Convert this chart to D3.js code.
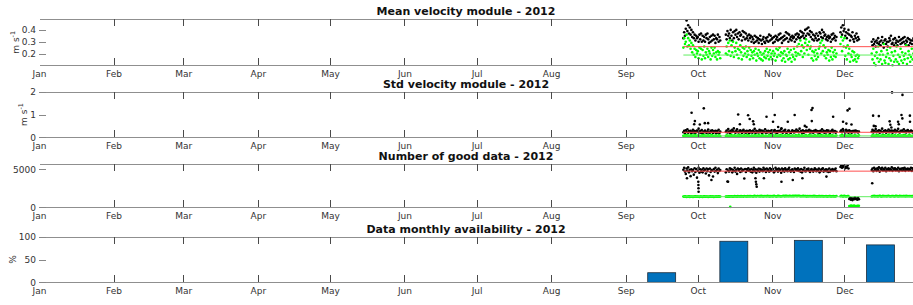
<!DOCTYPE html>
<html>
<head>
<meta charset="utf-8">
<script src="https://cdn.jsdelivr.net/npm/d3@7"></script>
<style>
  body { margin: 0; background: #fff; }
  svg { display: block; font-family: "DejaVu Sans", sans-serif; }
</style>
</head>
<body>
<div id="chart"></div>
<script>
const _ = null;

// Monthly availability (%), Jan..Dec
const availability = [0, 0, 0, 0, 0, 0, 0, 0, 21, 90, 92, 82];

// Samples every 8 h starting 25 Sep 2012 00:00 (3 per day, gaps = null)
const sampleStart = '2012-09-25 00';
const sampleHours = 8;

// Mean velocity module (m/s): all data (black) and good data (green)
const velAll = [
  .33,.38,.35, .41,.48,.39, .44,.37,.42, .36,.40,.34,
  .38,.33,.36, .31,.35,.33, .34,.30,.36, .32,.37,.30,
  .35,.31,.34, .30,.36,.33, .37,.32,.29, .34,.30,.35,
  .31,.36,.32, .35,.29,.33, .32,.36,.30, .34,.31,_,
  _,_,_, _,_,.36, .32,.39,.35, .37,.33,.40,
  .35,.31,.38, .33,.39,.36, .40,.34,.37, .32,.38,.35,
  .36,.31,.39, .34,.38,.32, .37,.33,.35, .31,.36,.33,
  .35,.30,.34, .32,.29,.35, .30,.34,.31, .33,.29,.32,
  .35,.31,.28, .32,.34,.30, .29,.33,.31, .34,.30,.36,
  .31,.35,.32, .33,.29,.34, .30,.35,.32, .34,.31,.36,
  .32,.37,.33, .29,.34,.31, .35,.32,.38, .33,.37,.30,
  .36,.32,.34, .31,.35,.33, .34,.30,.36, .32,.37,.34,
  .36,.33,.39, .34,.38,.35, .37,.33,.40, .35,.41,.37,
  .42,.36,.39, .34,.38,.32, .36,.31,.35, .33,.37,.31,
  .35,.32,.38, .37,.34,.40, .33,.38,.35, .36,.32,.34,
  .31,.35,.33, .34,.30,.36, .32,.37,.33, .35,.31,.34,
  _,_,_, _,.38,.42, .36,.44,.39, .41,.35,.38,
  .33,.37,.40, .36,.31,.35, .34,.38,.32, .30,.35,.33,
  .37,.31,.34, .32,_,_, _,_,_, _,_,_,
  _,_,_, _,_,_, _,.30,.27, .32,.28,.30,
  .26,.31,.29, .33,.28,.30, .27,.31,.34, .29,.25,.31,
  .32,.28,.30, .26,.30,.33, .31,.35,.28, .29,.32,.27,
  .33,.29,.31, .27,.30,.34, .31,.28,.32, .29,.33,.30,
  .34,.28,.31, .30,.33,.27, .32,.29,.31, .28,.31,.33,
  .30,.27,.32, .29,.31,.28
];
const velGood = [
  .25,.33,.28, .30,.36,.26, .33,.27,.31, .24,.29,.21,
  .27,.19,.24, .17,.23,.20, .22,.16,.25, .19,.24,.15,
  .23,.18,.26, .16,.21,.19, .24,.17,.22, .20,.15,.25,
  .18,.23,.20, .25,.17,.21, .15,.22,.19, .21,.16,_,
  _,_,_, _,_,.20, .26,.19,.29, .22,.31,.18,
  .27,.21,.30, .17,.25,.22, .29,.19,.24, .16,.23,.27,
  .21,.15,.25, .18,.24,.20, .26,.17,.22, .19,.25,.15,
  .23,.18,.21, .16,.22,.19, .24,.14,.20, .18,.23,.16,
  .21,.15,.19, .14,.20,.17, .22,.16,.24, .18,.21,.15,
  .23,.17,.20, .15,.22,.18, .20,.14,.24, .17,.23,.19,
  .25,.18,.21, .14,.20,.16, .22,.13,.19, .18,.24,.15,
  .21,.16,.23, .13,.19,.17, .24,.15,.21, .18,.26,.20,
  .28,.19,.31, .22,.27,.17, .25,.20,.29, .32,.23,.27,
  .19,.30,.24, .26,.16,.22, .14,.21,.18, .23,.15,.20,
  .17,.24,.26, .29,.20,.31, .22,.27,.18, .25,.16,.21,
  .19,.23,.14, .22,.17,.25, .15,.21,.18, .23,.17,.20,
  _,_,_, _,.28,.34, .22,.31,.26, .33,.18,.25,
  .15,.27,.20, .24,.13,.19, .17,.22,.14, .21,.15,.18,
  .13,.19,.16, .18,_,_, _,_,_, _,_,_,
  _,_,_, _,_,_, _,.20,.15, .24,.12,.18,
  .10,.21,.16, .26,.13,.19, .15,.22,.11, .19,.28,.14,
  .12,.17,.23, .20,.11,.16, .25,.14,.21, .10,.18,.13,
  .22,.15,.26, .13,.19,.11, .17,.24,.14, .21,.12,.18,
  .15,.20,.27, .11,.16,.22, .19,.13,.17, .24,.15,.20,
  .12,.18,.14, .16,.21,.13
];
const velRefs = [0.258, 0.187];

// Std velocity module (m/s)
const stdAll = [
  .22,.28,.19, .31,.24,.35, .20,.27,.23, .29,.18,.25,
  .33,.21,.27, .19,.26,.30, .24,.38,.21, .27,.20,.32,
  .18,.25,.22, .30,.23,.19, .26,.34,.21, .20,.28,.24,
  .31,.19,.26, .23,.29,.18, .27,.21,.33, .19,.25,_,
  _,_,_, _,_,.24, .30,.21,.36, .25,.19,.28,
  .22,.33,.26, .39,.24,.20, .28,.35,.23, .21,.27,.31,
  .25,.19,.29, .33,.22,.26, .20,.28,.24, .27,.18,.31,
  .23,.26,.20, .30,.24,.37, .19,.28,.22, .26,.21,.33,
  .24,.30,.19, .28,.22,.25, .35,.20,.27, .21,.29,.23,
  .26,.19,.31, .22,.28,.24, .32,.21,.26, .19,.27,.23,
  .29,.24,.36, .23,.20,.28, .26,.33,.21, .20,.25,.30,
  .28,.22,.19, .24,.31,.26, .21,.27,.23, .34,.25,.29,
  .22,.38,.24, .27,.20,.31, .19,.26,.23, .30,.24,.28,
  .25,.33,.21, .28,.22,.26, .20,.29,.24, .32,.23,.27,
  .21,.26,.19, .29,.24,.35, .23,.28,.20, .26,.21,.31,
  .24,.30,.22, .19,.25,.28, .33,.22,.26, .27,.20,.24,
  _,_,_, _,.25,.31, .22,.36,.27, .29,.21,.33,
  .24,.28,.20, .31,.23,.26, .20,.27,.24, .28,.22,.30,
  .23,.26,.21, .25,_,_, _,_,_, _,_,_,
  _,_,_, _,_,_, _,.24,.33, .21,.28,.25,
  .36,.22,.27, .24,.31,.20, .29,.23,.38, .22,.27,.25,
  .31,.20,.26, .25,.34,.22, .28,.23,.30, .20,.27,.24,
  .33,.22,.29, .26,.37,.23, .21,.28,.25, .30,.24,.35,
  .23,.27,.21, .29,.32,.25, .22,.26,.30, .27,.21,.24,
  .31,.25,.28, .24,.29,.22
];
const stdGood = [
  .07,.05,.09, .06,.10,.05, .08,.06,.04, .09,.05,.07,
  .05,.08,.06, .10,.06,.04, .07,.09,.05, .04,.07,.08,
  .06,.10,.05, .08,.04,.07, .05,.09,.06, .07,.05,.10,
  .09,.06,.04, .05,.08,.07, .06,.04,.09, .08,.05,_,
  _,_,_, _,_,.06, .09,.05,.07, .04,.08,.06,
  .10,.06,.05, .07,.09,.04, .05,.07,.08, .06,.10,.05,
  .08,.04,.07, .05,.09,.06, .07,.05,.10, .09,.06,.04,
  .04,.08,.07, .06,.05,.09, .08,.07,.05, .05,.10,.06,
  .07,.04,.08, .09,.06,.05, .06,.08,.04, .04,.07,.09,
  .08,.05,.06, .10,.07,.05, .05,.09,.06, .07,.04,.08,
  .06,.10,.05, .08,.06,.07, .04,.09,.05, .07,.05,.10,
  .09,.06,.04, .05,.08,.07, .06,.04,.09, .08,.07,.05,
  .10,.05,.06, .07,.09,.04, .05,.06,.08, .09,.04,.07,
  .06,.10,.05, .08,.05,.07, .04,.07,.09, .07,.06,.05,
  .09,.08,.04, .05,.10,.06, .08,.04,.07, .06,.09,.05,
  .07,.05,.10, .04,.08,.06, .09,.06,.05, .05,.07,.08,
  _,_,_, _,.08,.05, .10,.06,.07, .05,.09,.04,
  .07,.05,.08, .06,.10,.05, .08,.04,.07, .05,.09,.06,
  .07,.06,.04, .09,_,_, _,_,_, _,_,_,
  _,_,_, _,_,_, _,.06,.09, .05,.08,.04,
  .07,.10,.06, .09,.05,.07, .04,.08,.06, .10,.05,.09,
  .06,.07,.04, .08,.11,.05, .05,.07,.09, .07,.04,.08,
  .09,.06,.05, .06,.10,.07, .04,.08,.06, .08,.05,.10,
  .07,.09,.04, .05,.06,.08, .10,.07,.05, .06,.04,.09,
  .08,.10,.06, .05,.07,.08
];
const stdExtraAt = ['09-28 10','09-29 19','09-29 12','10-01 20','10-03 12','10-03 22','10-05 07',
  '10-17 19','10-18 12','10-21 22','10-22 14','10-24 00','10-24 07','10-29 14','11-01 07','11-02 00',
  '11-03 10','11-04 19','11-07 10','11-10 07','11-14 12','11-15 05','11-17 07','11-17 17','11-17 10',
  '11-26 07','11-30 10','12-01 19','12-02 07','12-03 02','12-03 22','12-12 22','12-13 05','12-13 22',
  '12-15 07','12-19 19','12-20 02','12-20 12','12-20 19','12-23 07','12-23 14','12-24 17','12-25 02',
  '12-25 03','12-28 05','12-28 06'];
const stdExtraVal = [1.08,0.71,0.57,0.56,1.27,0.62,0.62,
  1.00,0.57,0.97,0.80,0.70,0.57,0.90,0.68,0.98,
  0.45,0.40,0.68,0.98,0.50,0.45,1.20,1.28,0.71,
  0.90,0.68,0.60,1.18,1.25,0.56,0.95,0.50,0.48,
  0.93,0.70,0.55,0.43,1.97,0.68,0.57,0.98,0.83,
  1.86,0.95,0.68];
const stdRefs = [0.22, 0.06];

// Number of good data
const cntAll = [
  4950,5200,4700, 4400,5100,4850, 5250,4600,4950, 4100,5000,4750,
  4900,4300,5150, 4650,5050,3900, 4800,5200,4550, 5000,4700,4950,
  4600,5150,4850, 4950,4450,5100, 4750,5000,4200, 5100,4650,4900,
  4850,4050,5050, 4700,5200,4800, 4950,4500,5100, 4800,4900,_,
  _,_,_, _,_,4600, 5000,3400,4850, 4700,5150,4950,
  5050,4600,4900, 4800,5200,4700, 4950,4400,5100, 4850,5000,4650,
  5100,4750,4950, 4900,3800,5050, 4650,5000,4850, 5150,4800,4950,
  4700,5050,4600, 4900,5200,4750, 5000,4550,4950, 4800,5100,4700,
  5050,4850,4950, 4750,5200,4900, 5000,4650,5100, 4850,4950,4700,
  5150,4800,5000, 4900,5050,4600, 4750,5200,4950, 5000,4700,5100,
  4850,4950,4550, 5100,4800,5000, 4700,5150,4900, 4950,4750,5050,
  5200,4850,4700, 4900,5000,4800, 4650,5100,4950, 5000,4850,5150,
  4800,4950,4700, 5050,4600,4900, 4900,5200,4750, 4750,5000,4950,
  5100,4800,4650, 4950,5050,4850, 4700,4900,5150, 5000,4750,4950,
  4850,5100,4600, 4950,4800,5050, 5150,4700,4900, 4800,5000,4750,
  4950,4650,5100, 4700,4900,4850, 5050,4800,4950, 4900,5100,4750,
  _,_,_, _,5300,5500, 5200,5450,5350, 5400,5150,5300,
  5250,5500,5100, 1100,1250,1000, 1200,950,1150, 1050,1300,1100,
  1150,1000,1250, 1050,_,_, _,_,_, _,_,_,
  _,_,_, _,_,_, _,4900,5100, 4750,5200,4950,
  5050,4800,5150, 4900,5250,4700, 5100,4950,5200, 4850,5050,4900,
  5200,4750,5000, 4950,5150,4850, 5050,4900,5250, 4800,5100,4950,
  5150,4850,5000, 4900,5200,4750, 5050,4950,5100, 4850,5150,4900,
  5200,4800,5050, 4950,5100,4850, 5050,4900,5200, 4800,5150,4950,
  5100,4850,5000, 4950,5050,4900
];
const cntGood = [
  1420,1380,1450, 1400,1360,1430, 1390,1440,1370, 1410,1380,1420,
  1360,1430,1400, 1440,1390,1410, 1380,1420,1360, 1430,1400,1390,
  1370,1410,1440, 1400,1380,1420, 1430,1360,1410, 1390,1440,1380,
  1420,1400,1370, 1380,1430,1410, 1410,1390,1440, 1400,1420,_,
  _,_,_, _,_,1410, 1430,1390,1450, 1400,1440,1420,
  1460,1410,1430, 1420,1470,1440, 1450,1410,1480, 1430,1460,1420,
  1470,1440,1450, 1410,1480,1460, 1450,1430,1470, 1440,1490,1430,
  1480,1450,1460, 1430,1470,1500, 1460,1440,1480, 1490,1450,1470,
  1440,1500,1460, 1470,1430,1490, 1450,1480,1440, 1500,1460,1470,
  1430,1490,1450, 1470,1440,1500, 1480,1460,1430, 1450,1500,1470,
  1490,1440,1460, 1460,1480,1510, 1440,1500,1470, 1510,1460,1480,
  1470,1520,1450, 1490,1470,1500, 1460,1510,1480, 1500,1450,1520,
  1480,1500,1460, 1450,1490,1470, 1500,1460,1480, 1470,1430,1490,
  1440,1480,1450, 1490,1450,1470, 1460,1500,1440, 1480,1440,1460,
  1450,1470,1490, 1430,1480,1450, 1470,1440,1460, 1460,1490,1430,
  1440,1460,1470, 1480,1430,1450, 1450,1470,1440, 1460,1440,1480,
  _,_,_, _,1450,1500, 1480,1430,1470, 1500,1460,1440,
  1450,1490,1470, 180,120,230, 150,200,90, 220,140,180,
  110,190,160, 200,_,_, _,_,_, _,_,_,
  _,_,_, _,_,_, _,1430,1480, 1460,1500,1440,
  1490,1450,1470, 1440,1480,1510, 1470,1430,1460, 1500,1460,1490,
  1450,1480,1440, 1480,1510,1460, 1460,1440,1490, 1490,1470,1450,
  1440,1500,1480, 1470,1450,1460, 1500,1460,1490, 1450,1480,1470,
  1480,1440,1500, 1460,1490,1450, 1490,1460,1480, 1440,1470,1500,
  1470,1450,1460, 1500,1480,1450
];
const cntExtraAt = ['09-26 12','10-01 05','10-01 06','10-01 07','10-01 08','10-06 16','10-13 14',
  '10-25 00','10-25 04','10-25 08','10-25 12','10-28 12','11-04 19','11-09 12','11-13 12','11-23 12','12-12 13'];
const cntExtraVal = [3820,3370,2930,2500,2050,3590,3370,3820,3370,3020,2710,3820,3370,3600,3820,4040,3160];
const cntGoodExtraAt = ['10-14 12'];
const cntGoodExtraVal = [60];
const cntRefs = [4760, 1395];

// ---- layout ----
const width = 913, height = 305;
const frame = {left: 39, right: 919, tick: 7, titleX: 466, dot: 1.3, barDays: 11.6};
const boxes = [[19.3, 65.3], [91.7, 137.3], [164, 207.3], [236.7, 282.3]];

const panels = [
  {title: 'Mean velocity module - 2012', domain: [0.1, 0.49], ticks: [0.2, 0.3, 0.4], fmt: '.1f',
   label: 'm s', sup: '-1', labelX: 18.5, all: velAll, good: velGood, refs: velRefs},
  {title: 'Std velocity module - 2012', domain: [0, 2], ticks: [0, 1, 2], fmt: 'd',
   label: 'm s', sup: '-1', labelX: 27, all: stdAll, good: stdGood, refs: stdRefs,
   extraAll: [stdExtraAt, stdExtraVal]},
  {title: 'Number of good data - 2012', domain: [0, 5700], ticks: [0, 5000], fmt: 'd',
   all: cntAll, good: cntGood, refs: cntRefs,
   extraAll: [cntExtraAt, cntExtraVal], extraGood: [cntGoodExtraAt, cntGoodExtraVal]},
  {title: 'Data monthly availability - 2012', domain: [0, 100], ticks: [0, 50, 100], fmt: 'd',
   label: '%', labelX: 16, bars: availability}
];

const parseHour = d3.timeParse('%Y-%m-%d %H');
const t0 = parseHour(sampleStart);
const atSlot = i => d3.timeHour.offset(t0, i * sampleHours);
const atStamp = s => parseHour('2012-' + s);

const svg = d3.select('#chart').append('svg')
  .attr('width', width)
  .attr('height', height);

const x = d3.scaleTime()
  .domain([new Date(2012, 0, 1), new Date(2013, 0, 1)])
  .range([frame.left, frame.right]);
const monthTicks = d3.timeMonth.range(x.domain()[0], x.domain()[1]);

panels.forEach((p, k) => {
  const [top, bottom] = boxes[k];
  const y = d3.scaleLinear().domain(p.domain).range([bottom, top]);
  const g = svg.append('g').attr('class', 'panel');

  const dots = (pts, color) => g.append('g')
    .selectAll('circle')
    .data(pts)
    .join('circle')
    .attr('cx', d => x(d[0]))
    .attr('cy', d => y(d[1]))
    .attr('r', frame.dot)
    .attr('fill', color);
  const fromSlots = vals => vals.map((v, i) => [atSlot(i), v]).filter(d => d[1] !== null);
  const fromStamps = ([at, vals]) => at.map((s, i) => [atStamp(s), vals[i]]);

  if (p.bars) {
    const barData = p.bars.map((v, i) => ({v, mid: d3.timeDay.offset(new Date(2012, i, 1), 15)}))
      .filter(d => d.v > 0);
    const half = frame.barDays * 12;
    g.selectAll('rect')
      .data(barData)
      .join('rect')
      .attr('x', d => x(d3.timeHour.offset(d.mid, -half)))
      .attr('width', d => x(d3.timeHour.offset(d.mid, half)) - x(d3.timeHour.offset(d.mid, -half)))
      .attr('y', d => y(d.v))
      .attr('height', d => y(0) - y(d.v))
      .style('fill', '#0072bd')
      .style('stroke', '#1c2b3a')
      .style('stroke-width', 0.8);
  }

  if (p.all) {
    dots(fromSlots(p.all), '#000');
    if (p.extraAll) dots(fromStamps(p.extraAll), '#000');
    dots(fromSlots(p.good), '#00ff00');
    if (p.extraGood) dots(fromStamps(p.extraGood), '#00ff00');
    const span = [atSlot(0), atSlot(p.all.length - 1)];
    [['#ff5050', p.refs[0]], ['#60ee60', p.refs[1]]].forEach(([c, v]) => {
      g.append('line')
        .attr('x1', x(span[0])).attr('x2', x(span[1]))
        .attr('y1', y(v)).attr('y2', y(v))
        .style('stroke', c)
        .style('stroke-width', 1);
    });
  }

  // frame: top and bottom axes with inward month ticks
  const xTop = d3.axisTop(x).tickValues(monthTicks).tickSizeInner(-frame.tick).tickSizeOuter(0).tickFormat('');
  const xBottom = d3.axisBottom(x).tickValues(monthTicks).tickSizeInner(-frame.tick).tickSizeOuter(0)
    .tickPadding(5).tickFormat(d3.timeFormat('%b'));
  const yLeft = d3.axisLeft(y).tickValues(p.ticks).tickSizeInner(-frame.tick).tickSizeOuter(0)
    .tickPadding(3).tickFormat(d3.format(p.fmt));

  [[xTop, top], [xBottom, bottom]].forEach(([ax, pos]) => {
    const a = g.append('g')
      .attr('transform', 'translate(' + [0, pos] + ')')
      .call(ax);
    a.select('.domain').style('stroke', '#8f8f8f').attr('shape-rendering', 'crispEdges');
    a.selectAll('.tick line').style('stroke', '#4a4a4a').attr('shape-rendering', 'crispEdges');
    a.selectAll('.tick').filter(d => d.getMonth() === 0).select('line').remove();
    a.selectAll('.tick text').style('fill', '#333').attr('font-size', 9).attr('font-family', '"DejaVu Sans", sans-serif');
  });

  const ya = g.append('g')
    .attr('transform', 'translate(' + [frame.left, 0] + ')')
    .call(yLeft);
  ya.select('.domain').remove();
  ya.selectAll('.tick line').style('stroke', '#888').attr('shape-rendering', 'crispEdges');
  ya.selectAll('.tick text').style('fill', '#333').attr('font-size', 9).attr('font-family', '"DejaVu Sans", sans-serif');

  svg.append('text')
    .attr('x', frame.titleX)
    .attr('y', top - 4)
    .attr('text-anchor', 'middle')
    .attr('font-size', 11)
    .attr('font-weight', 'bold')
    .style('fill', '#111')
    .text(p.title);

  if (p.label) {
    const lab = svg.append('text')
      .attr('transform', 'translate(' + [p.labelX, (top + bottom) / 2] + ') rotate(-90)')
      .attr('text-anchor', 'middle')
      .attr('font-size', 9)
      .style('fill', '#333')
      .text(p.label);
    if (p.sup) {
      lab.append('tspan').attr('dy', -4).attr('font-size', 6.5).text(p.sup);
    }
  }
});
</script>
</body>
</html>
